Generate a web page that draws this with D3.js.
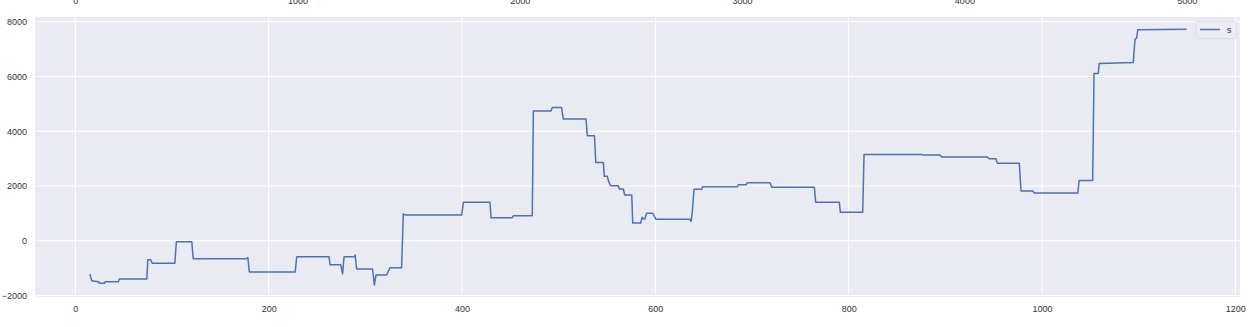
<!DOCTYPE html>
<html>
<head>
<meta charset="utf-8">
<script src="https://cdn.jsdelivr.net/npm/d3@7"></script>
<style>
  body { margin: 0; background: #ffffff; }
  svg text { font-family: "Liberation Sans", Arial, sans-serif; }
</style>
</head>
<body>
<div id="chart"></div>
<script>
var width = 1257
var height = 327
var plot = {left: 35, right: 1240, top: 17, bottom: 297}

// series "s"
var sX = [15, 17, 24, 25, 30, 31, 44.5, 45.5, 74, 75, 78, 79.5, 103, 104.5, 120.5, 122, 177, 178.5, 180,
  227.5, 229, 262.5, 263.5, 274.5, 276.5, 278, 288.5, 289.5, 291, 307.5, 309.3, 311, 322, 325.5, 337.5,
  339.3, 342, 399.7, 401.4, 429, 430, 452, 453, 472.7, 473.8, 492, 493.4, 503, 504.8, 528.3, 529.6, 537,
  538.4, 546.2, 547.2, 550.3, 552, 553.8, 561.7, 562.8, 566.9, 568.3, 575.6, 576.6, 584.9, 586.2, 587.6,
  589, 591, 597.3, 600.7, 635.9, 637, 638.3, 640, 648, 649, 684.8, 685.9, 693.8, 695.2, 718.6, 720.4,
  764.5, 765.9, 790.3, 791.4, 814.5, 815.9, 875.5, 877, 894.2, 896.2, 943.4, 945.5, 952.4, 953.8, 976.5,
  978.3, 990.4, 992, 1037, 1038.4, 1052.4, 1053.8, 1058.2, 1059.2, 1094.4, 1096.2, 1097.9, 1099, 1149.7]
var sY = [-1215, -1460, -1496, -1555, -1555, -1496, -1496, -1398, -1398, -693, -693, -825, -825, -40, -40, -657, -657, -620, -1142,
  -1142, -584, -584, -876, -876, -1204, -584, -584, -522, -1033, -1033, -1617, -1252, -1252, -985, -985,
  974, 938, 938, 1401, 1401, 839, 839, 912, 912, 4734, 4734, 4869, 4869, 4441, 4441, 3832, 3832,
  2861, 2861, 2350, 2350, 2131, 2007, 2007, 1887, 1887, 1668, 1668, 646, 646, 854, 792,
  792, 1000, 1000, 781, 781, 708, 1058, 1876, 1876, 1971, 1971, 2044, 2044, 2117, 2117, 1949,
  1949, 1401, 1401, 1036, 1036, 3153, 3153, 3128, 3128, 3055, 3055, 2993, 2993, 2825, 2825,
  1814, 1814, 1741, 1741, 2200, 2200, 6109, 6109, 6474, 6510, 7361, 7400, 7701, 7726]

var xTicks = [0, 200, 400, 600, 800, 1000, 1200]
var topTicks = [0, 1000, 2000, 3000, 4000, 5000]
var yTicks = [-2000, 0, 2000, 4000, 6000, 8000]
var xDomain = [-41.7, 1204.8]
var topDomain = [-181.3, 5240]
var yDomain = [-2055, 8170]

var svg = d3.select('#chart')
  .append('svg')
  .attr('width', width)
  .attr('height', height)

var x = d3.scaleLinear().domain(xDomain).range([plot.left, plot.right])
var xTop = d3.scaleLinear().domain(topDomain).range([plot.left, plot.right])
var y = d3.scaleLinear().domain(yDomain).range([plot.bottom, plot.top])

// background
svg.append('rect')
  .attr('x', plot.left).attr('y', plot.top)
  .attr('width', plot.right - plot.left)
  .attr('height', plot.bottom - plot.top)
  .attr('fill', '#eaeaf2')

// grid
svg.append('g').selectAll('line')
  .data(xTicks).enter().append('line')
  .attr('x1', function(d){return x(d)}).attr('x2', function(d){return x(d)})
  .attr('y1', plot.top).attr('y2', plot.bottom)
  .attr('stroke', '#ffffff').attr('stroke-width', 1)
svg.append('g').selectAll('line')
  .data(yTicks).enter().append('line')
  .attr('y1', function(d){return y(d)}).attr('y2', function(d){return y(d)})
  .attr('x1', plot.left).attr('x2', plot.right)
  .attr('stroke', '#ffffff').attr('stroke-width', 1)

// axes (labels only, seaborn style)
var fmt = d3.format('d')
var xAxis = d3.axisBottom(x).tickValues(xTicks).tickFormat(fmt).tickSize(0).tickPadding(9)
var gx = svg.append('g')
  .attr('transform', 'translate(0,' + plot.bottom + ')')
  .call(xAxis)
// top axis labels sit mostly above the picture edge
var topAxis = d3.axisTop(xTop).tickValues(topTicks).tickFormat(fmt).tickSize(0).tickPadding(13.5)
var gt = svg.append('g')
  .attr('transform', 'translate(0,' + plot.top + ')')
  .call(topAxis)
var yAxis = d3.axisLeft(y).tickValues(yTicks).tickFormat(fmt).tickSize(0).tickPadding(8)
var gy = svg.append('g')
  .attr('transform', 'translate(' + plot.left + ',0)')
  .call(yAxis)

;[gx, gt, gy].forEach(function(g){
  g.select('.domain').remove()
  g.selectAll('text')
    .attr('fill', '#333333')
    .style('font-size', '9px')
    .style('font-family', '"Liberation Sans", Arial, sans-serif')
})

// line
var pts = sX.map(function(d, i){return [d, sY[i]]})
var line = d3.line()
  .x(function(d){return x(d[0])})
  .y(function(d){return y(d[1])})
svg.append('path')
  .datum(pts)
  .attr('d', line)
  .attr('fill', 'none')
  .attr('stroke', '#4c72b0')
  .attr('stroke-width', 1.5)
  .attr('stroke-linejoin', 'round')

// legend
var legend = svg.append('g').attr('transform', 'translate(1196,21.5)')
legend.append('rect')
  .attr('width', 40.5).attr('height', 17)
  .attr('rx', 2)
  .attr('fill', '#ececf3')
  .attr('stroke', '#d9d9e2').attr('stroke-width', 0.8)
legend.append('line')
  .attr('x1', 4).attr('x2', 24)
  .attr('y1', 8).attr('y2', 8)
  .attr('stroke', '#4c72b0').attr('stroke-width', 1.5)
legend.append('text')
  .attr('x', 31).attr('y', 11)
  .attr('fill', '#333333')
  .style('font-size', '9px')
  .text('s')
</script>
</body>
</html>
